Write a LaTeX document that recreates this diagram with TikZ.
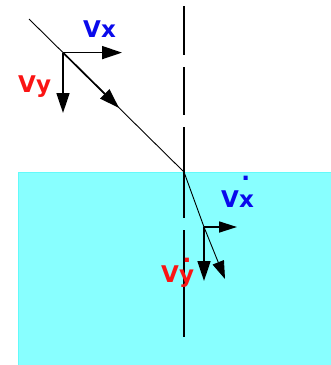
\documentclass[tikz,border=0pt]{standalone}
\usepackage{fontspec}
\setmainfont{DejaVu Sans}
\usepackage{tikz}
\usetikzlibrary{arrows.meta}
\definecolor{water}{RGB}{136,255,255}
\definecolor{waterborder}{RGB}{100,250,250}
\definecolor{vxblue}{RGB}{10,10,235}
\definecolor{vyred}{RGB}{250,20,20}

\begin{document}
\begin{tikzpicture}[x=1pt,y=-1pt,
  vec/.style={line width=1.7pt,-{Triangle[length=20pt,width=13pt]}},
  ray/.style={line width=0.9pt},
  lbl/.style={inner sep=0pt,anchor=base west,font=\fontsize{23}{28}\selectfont\bfseries}]
  \useasboundingbox (0,0) rectangle (331,365);
  % water
  \fill[water,draw=waterborder,line width=0.8pt] (18,172) rectangle (331.5,365.5);
  % normal
  \coordinate (ntop) at (184,6);
  \coordinate (nbot) at (184,337);
  \draw[line width=1.7pt,dash pattern=on 49pt off 12pt on 48pt off 12pt on 91pt off 12pt on 107pt off 60pt] (ntop) -- (nbot);
  % incident ray
  \coordinate (start) at (29,19);
  \coordinate (hit) at (184,172);
  \coordinate (o1) at (63,52.6);
  \coordinate (v1) at (119,107.9);
  \coordinate (vx1) at (122,52.6);
  \coordinate (vy1) at (63,113);
  \draw[ray] (start) -- (hit);
  \draw[vec] (o1) -- (v1);
  \draw[vec] (o1) -- (vx1);
  \draw[vec] (o1) -- (vy1);
  \node[lbl,text=vxblue] (lvx1) at (83,37) {Vx};
  \node[lbl,text=vyred] (lvy1) at (18,92) {Vy};
  % refracted ray
  \coordinate (o2) at (204,227);
  \coordinate (v2) at (225,279);
  \coordinate (vx2) at (237,227);
  \coordinate (vy2) at (204,281);
  \draw[ray] (hit) -- (o2);
  \draw[ray,-{Triangle[length=18pt,width=12pt]}] (o2) -- (v2);
  \draw[vec,-{Triangle[length=18pt,width=11pt]}] (o2) -- (vx2);
  \draw[vec] (o2) -- (vy2);
  \node[lbl,text=vxblue] (lvx2) at (221,207) {Vx\kern-12.4pt\raisebox{27pt}{.}};
  \node[lbl,text=vyred] (lvy2) at (161,282) {Vy\kern-11.4pt\raisebox{20pt}{.}};
\end{tikzpicture}
\end{document}
